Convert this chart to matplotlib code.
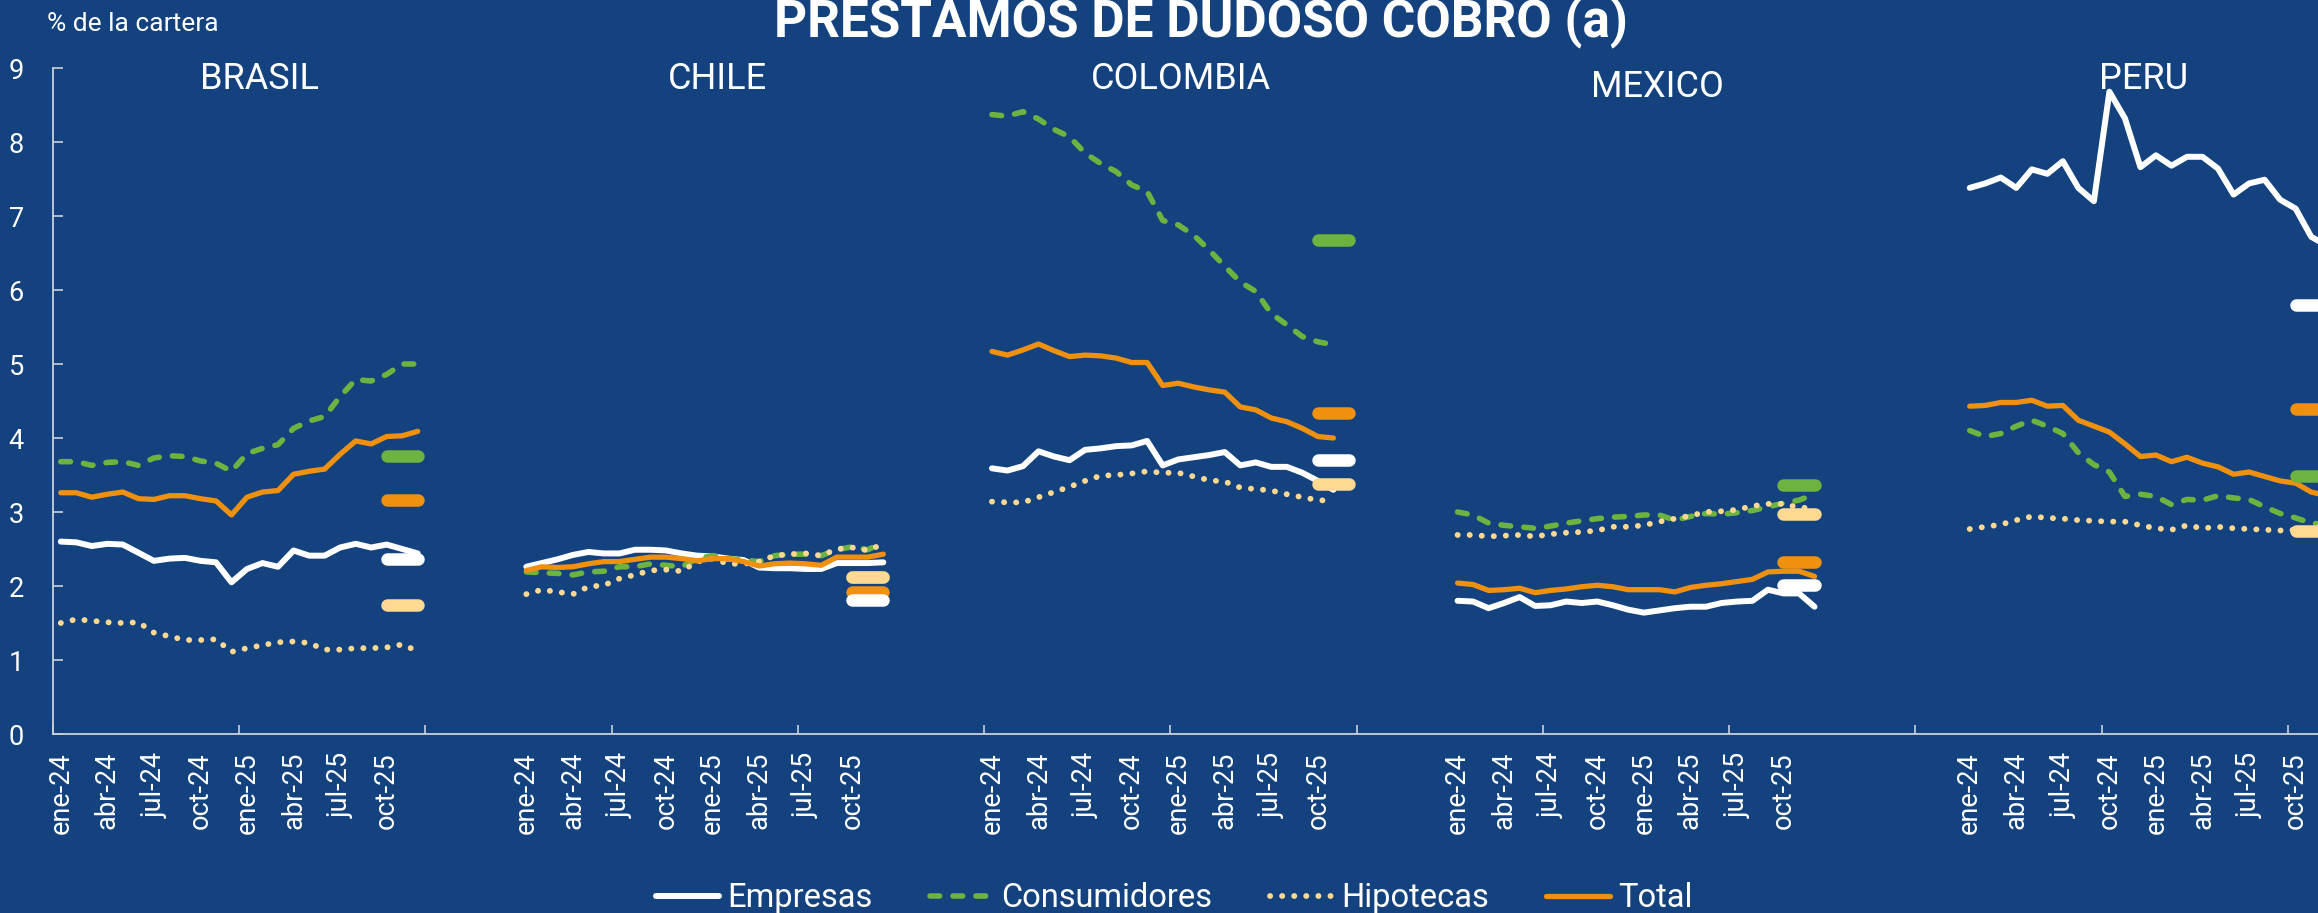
import numpy as np
import matplotlib.pyplot as plt

plt.rcParams['font.family'] = ['Roboto', 'DejaVu Sans']
plt.rcParams['lines.scale_dashes'] = False

# --- datos (% de la cartera), mensual ene-24 ... dic-25 ---
series = ["Empresas", "Consumidores", "Hipotecas", "Total"]
paises = ["BRASIL", "CHILE", "COLOMBIA", "MEXICO", "PERU"]
etiquetas_mes = ["ene-24", "abr-24", "jul-24", "oct-24", "ene-25", "abr-25", "jul-25", "oct-25"]

brasil_empresas = [2.60, 2.59, 2.54, 2.57, 2.56, 2.45, 2.34, 2.37, 2.38, 2.34, 2.32, 2.05,
                   2.23, 2.31, 2.26, 2.48, 2.41, 2.41, 2.52, 2.57, 2.52, 2.56, 2.50, 2.44]
brasil_consumo = [3.68, 3.68, 3.63, 3.67, 3.68, 3.63, 3.73, 3.76, 3.75, 3.69, 3.66, 3.55,
                  3.79, 3.86, 3.91, 4.13, 4.23, 4.29, 4.56, 4.79, 4.77, 4.86, 5.00, 5.00]
brasil_hipotecas = [1.50, 1.55, 1.53, 1.51, 1.50, 1.51, 1.37, 1.32, 1.27, 1.27, 1.28, 1.11,
                    1.16, 1.20, 1.24, 1.25, 1.23, 1.14, 1.14, 1.16, 1.16, 1.17, 1.21, 1.12]
brasil_total = [3.26, 3.26, 3.20, 3.24, 3.27, 3.18, 3.17, 3.22, 3.22, 3.18, 3.15, 2.96,
                3.20, 3.27, 3.29, 3.51, 3.55, 3.58, 3.78, 3.96, 3.92, 4.02, 4.03, 4.09]

chile_empresas = [2.26, 2.31, 2.36, 2.42, 2.46, 2.44, 2.44, 2.49, 2.49, 2.48, 2.44, 2.41,
                  2.40, 2.37, 2.35, 2.25, 2.24, 2.24, 2.23, 2.23, 2.31, 2.31, 2.31, 2.32]
chile_consumo = [2.19, 2.18, 2.17, 2.15, 2.19, 2.20, 2.26, 2.26, 2.30, 2.28, 2.26, 2.37,
                 2.41, 2.37, 2.35, 2.33, 2.41, 2.43, 2.43, 2.41, 2.49, 2.53, 2.49, 2.59]
chile_hipotecas = [1.89, 1.95, 1.92, 1.89, 1.99, 2.01, 2.10, 2.15, 2.21, 2.22, 2.20, 2.33,
                   2.37, 2.30, 2.30, 2.33, 2.41, 2.43, 2.44, 2.41, 2.50, 2.52, 2.48, 2.57]
chile_total = [2.21, 2.26, 2.25, 2.26, 2.30, 2.33, 2.33, 2.36, 2.39, 2.39, 2.37, 2.34,
               2.37, 2.37, 2.33, 2.27, 2.30, 2.31, 2.30, 2.28, 2.39, 2.39, 2.39, 2.43]

colombia_empresas = [3.59, 3.56, 3.62, 3.82, 3.75, 3.70, 3.84, 3.86, 3.89, 3.90, 3.96, 3.63,
                     3.71, 3.74, 3.77, 3.81, 3.63, 3.67, 3.61, 3.61, 3.53, 3.42, 3.30]
colombia_consumo = [8.37, 8.35, 8.41, 8.31, 8.17, 8.07, 7.85, 7.71, 7.60, 7.42, 7.33, 6.94,
                    6.88, 6.74, 6.54, 6.32, 6.11, 5.98, 5.68, 5.53, 5.37, 5.30, 5.26]
colombia_hipotecas = [3.14, 3.13, 3.13, 3.20, 3.27, 3.34, 3.42, 3.49, 3.50, 3.52, 3.55, 3.53,
                      3.53, 3.48, 3.43, 3.41, 3.33, 3.31, 3.29, 3.24, 3.20, 3.16, 3.15]
colombia_total = [5.17, 5.12, 5.19, 5.27, 5.18, 5.10, 5.12, 5.11, 5.08, 5.02, 5.02, 4.71,
                  4.74, 4.69, 4.65, 4.62, 4.42, 4.38, 4.27, 4.22, 4.13, 4.02, 4.00]

mexico_empresas = [1.80, 1.79, 1.70, 1.77, 1.85, 1.73, 1.74, 1.79, 1.77, 1.79, 1.74, 1.68,
                   1.64, 1.67, 1.70, 1.72, 1.72, 1.77, 1.79, 1.80, 1.95, 1.90, 1.90, 1.72]
mexico_consumo = [3.00, 2.96, 2.85, 2.82, 2.80, 2.78, 2.81, 2.85, 2.88, 2.91, 2.93, 2.94,
                  2.96, 2.96, 2.89, 2.94, 2.98, 2.97, 2.99, 3.02, 3.07, 3.12, 3.16, 3.24]
mexico_hipotecas = [2.69, 2.69, 2.67, 2.68, 2.69, 2.67, 2.70, 2.72, 2.73, 2.75, 2.80, 2.80,
                    2.82, 2.87, 2.91, 2.95, 3.00, 3.01, 3.03, 3.08, 3.11, 3.11, 3.06, 3.05]
mexico_total = [2.04, 2.02, 1.94, 1.95, 1.97, 1.91, 1.94, 1.96, 1.99, 2.01, 1.99, 1.95,
                1.95, 1.95, 1.92, 1.98, 2.01, 2.03, 2.06, 2.09, 2.19, 2.20, 2.20, 2.13]

peru_empresas = [7.38, 7.44, 7.52, 7.38, 7.63, 7.57, 7.74, 7.38, 7.20, 8.68, 8.32, 7.66,
                 7.82, 7.68, 7.80, 7.80, 7.64, 7.29, 7.44, 7.49, 7.22, 7.10, 6.72, 6.60]
peru_consumo = [4.10, 4.02, 4.06, 4.16, 4.24, 4.16, 4.06, 3.80, 3.64, 3.54, 3.21, 3.24,
                3.21, 3.10, 3.17, 3.16, 3.22, 3.19, 3.17, 3.07, 2.98, 2.92, 2.85, 2.83]
peru_hipotecas = [2.77, 2.80, 2.83, 2.89, 2.94, 2.92, 2.91, 2.89, 2.88, 2.87, 2.87, 2.82,
                  2.78, 2.76, 2.82, 2.78, 2.80, 2.78, 2.77, 2.76, 2.75, 2.76, 2.74, 2.74]
peru_total = [4.43, 4.44, 4.48, 4.48, 4.51, 4.43, 4.44, 4.24, 4.16, 4.08, 3.92, 3.75,
              3.77, 3.68, 3.74, 3.66, 3.61, 3.51, 3.54, 3.48, 3.42, 3.39, 3.27, 3.22]

# niveles de referencia (barras cortas): Empresas, Consumidores, Hipotecas, Total
brasil_ref = [2.37, 3.76, 1.74, 3.16]
chile_ref = [1.81, 2.12, 2.12, 1.92]
colombia_ref = [3.70, 6.68, 3.38, 4.34]
mexico_ref = [2.02, 3.37, 2.97, 2.32]
peru_ref = [5.80, 3.48, 2.74, 4.39]

# --- estilo ---
fondo = "#13427f"
eje = "#c9d0dc"
colores = ["#ffffff", "#6cb33f", "#ffd992", "#f0900f"]
estilos = [dict(lw=4.3, solid_capstyle="round"),
           dict(lw=4.0, dashes=(7, 9.5), dash_capstyle="round"),
           dict(lw=4.2, dashes=(0.1, 8.6), dash_capstyle="round"),
           dict(lw=3.8, solid_capstyle="round")]

datos = [
    [brasil_empresas, brasil_consumo, brasil_hipotecas, brasil_total],
    [chile_empresas, chile_consumo, chile_hipotecas, chile_total],
    [colombia_empresas, colombia_consumo, colombia_hipotecas, colombia_total],
    [mexico_empresas, mexico_consumo, mexico_hipotecas, mexico_total],
    [peru_empresas, peru_consumo, peru_hipotecas, peru_total],
]
refs = [brasil_ref, chile_ref, colombia_ref, mexico_ref, peru_ref]
inicio = [0, 30, 60, 90, 123]          # posicion de cada panel en el eje de categorias
pos_titulo = [12.8, 42.3, 72.2, 102.9, 134.2]
ncat = 153

W, H = 2318, 913
paso = 15.52  # px por categoria
fig = plt.figure(figsize=(W / 100, H / 100), dpi=100)
fig.patch.set_facecolor(fondo)
ax = fig.add_axes([53 / W, 179 / H, ncat * paso / W, 666 / H])
ax.set_facecolor(fondo)

handles = []
for k, grupo in enumerate(datos):
    off = inicio[k]
    for j, valores in enumerate(grupo):
        x = off + np.arange(len(valores))
        ln, = ax.plot(x, valores, color=colores[j], **estilos[j], zorder=2 + j * 0.1)
        if k == 0:
            handles.append(ln)
    # barras de referencia (orden: consumo, hipotecas, total, empresas)
    for j in [1, 2, 3, 0]:
        ax.plot([off + 21, off + 23], [refs[k][j], refs[k][j]], color=colores[j],
                lw=9, solid_capstyle="round", zorder=3)
    ax.text(pos_titulo[k], 8.85 if paises[k] != "MEXICO" else 8.75, paises[k],
            ha="center", va="center", color="white", fontsize=26)

ax.set_xlim(-0.5, ncat - 0.5)
ax.set_ylim(0, 9)
ax.set_yticks(range(10))
ax.set_xticks(np.arange(-0.5, ncat, 12))
ax.set_xticklabels([])
pos_lab = [off + 3 * m for off in inicio for m in range(8)]
ax.set_xticks(pos_lab, minor=True)
ax.set_xticklabels(etiquetas_mes * len(inicio), minor=True, rotation=90,
                   fontsize=19.5, color="white", va="top", ha="center")
ax.tick_params(axis="x", which="major", direction="in", length=6.5, width=1.2, color=eje)
ax.tick_params(axis="x", which="minor", length=0, pad=13)
ax.tick_params(axis="y", direction="in", length=7, width=1.2, color=eje,
               labelsize=19.5, labelcolor="white", pad=21)
for s in ["top", "right"]:
    ax.spines[s].set_visible(False)
for s in ["left", "bottom"]:
    ax.spines[s].set_color(eje)
    ax.spines[s].set_linewidth(1.3)

fig.text(47 / W, 1 - 31 / H, "% de la cartera", color="white", fontsize=19,
         ha="left", va="baseline")
fig.text(1201 / W, 1 - 36 / H, "PRESTAMOS DE DUDOSO COBRO (a)", color="white",
         fontsize=37, fontweight="bold", ha="center", va="baseline")

fig.legend(handles, series, loc="center", bbox_to_anchor=(0.5065, 15 / H), ncol=4,
           frameon=False, fontsize=23.5, labelcolor="white", handlelength=1.95,
           handletextpad=0.25, columnspacing=1.75)

fig.savefig("out.png", dpi=100, facecolor=fondo)
